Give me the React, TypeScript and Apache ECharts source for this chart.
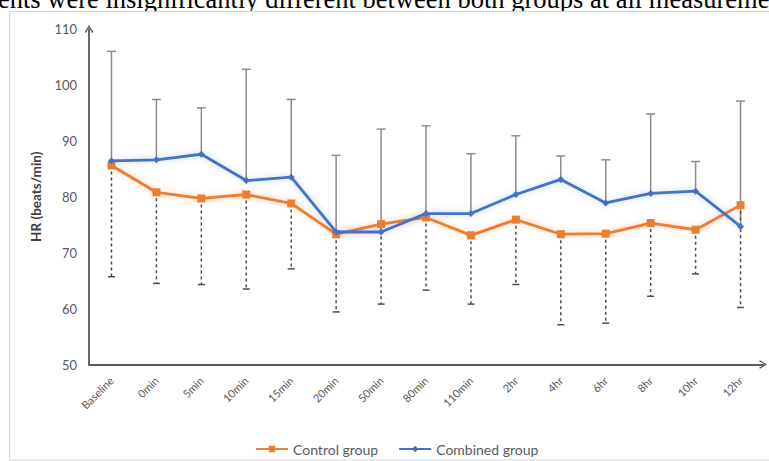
import React, { useEffect, useRef } from "react";
import * as echarts from "echarts";

// Time points of the heart-rate measurements
const timePoints = [
  "Baseline", "0min", "5min", "10min", "15min", "20min", "50min", "80min",
  "110min", "2hr", "4hr", "6hr", "8hr", "10hr", "12hr",
];

// Mean HR (beats/min) per group
const controlMean = [85.6, 80.8, 79.7, 80.4, 78.8, 73.3, 75.1, 76.3, 73.1, 75.9, 73.3, 73.4, 75.3, 74.1, 78.5];
const combinedMean = [86.4, 86.6, 87.6, 82.9, 83.5, 73.7, 73.7, 77.0, 77.0, 80.4, 83.1, 78.9, 80.6, 81.0, 74.7];

// Error-bar ends: upper (combined group) and lower (control group)
const combinedUpper = [106.0, 97.4, 95.9, 102.8, 97.4, 87.4, 92.1, 92.7, 87.7, 90.9, 87.3, 86.6, 94.8, 86.3, 97.1];
const controlLower = [65.7, 64.5, 64.3, 63.5, 67.1, 59.4, 60.8, 63.3, 60.8, 64.3, 57.1, 57.4, 62.2, 66.2, 60.2];

const yTicks = { min: 50, max: 110, interval: 10 };

const seriesNames = ["Control group", "Combined group"];
const caption = "ents were insignificantly different between both groups at all measureme";

const FONT = "Lato, 'Open Sans', sans-serif";
const AXIS_GREY = "#595959";
const CHEVRON = "path://M5,0 L10,8 L8.6,9.2 L5,2.6 L1.4,9.2 L0,8 Z";

function errorBar(dashed: boolean, color: string, capHalf: number) {
  return (params: any, api: any) => {
    const from = api.coord([api.value(0), api.value(1)]);
    const to = api.coord([api.value(0), api.value(2)]);
    const style = {
      stroke: color,
      lineWidth: 1.5,
      lineDash: dashed ? [3, 3] : undefined,
    };
    return {
      type: "group",
      children: [
        { type: "line", shape: { x1: from[0], y1: from[1], x2: to[0], y2: to[1] }, style },
        {
          type: "line",
          shape: { x1: to[0] - capHalf, y1: to[1], x2: to[0] + capHalf, y2: to[1] },
          style: { stroke: color, lineWidth: 1.5 },
        },
      ],
    };
  };
}

export default function App() {
  const ref = useRef<HTMLDivElement>(null);

  useEffect(() => {
    if (!ref.current) return;
    const chart = echarts.init(ref.current, null, { renderer: "svg" });

    const upperData = combinedUpper.map((v, i) => [i, combinedMean[i], v]);
    const lowerData = controlLower.map((v, i) => [i, controlMean[i], v]);

    chart.setOption({
      animation: false,
      backgroundColor: "#ffffff",
      grid: { left: 89, right: 6, top: 29, bottom: 96.5 },
      graphic: [
        {
          type: "text",
          x: -2,
          y: -1,
          z: -3,
          style: {
            text: caption,
            fill: "#000000",
            font: "26.5px 'Liberation Serif', 'DejaVu Serif', serif",
            verticalAlign: "middle",
          },
        },
        {
          // white figure panel with a light frame, laid over the caption's descenders
          type: "rect",
          z: -2,
          shape: { x: 9.5, y: 11.5, width: 800, height: 448.5 },
          style: { fill: "#ffffff", stroke: "#d4d4d4", lineWidth: 1 },
        },
      ],
      legend: {
        data: seriesNames,
        left: 250,
        top: 437,
        itemWidth: 32,
        itemHeight: 8,
        itemGap: 20,
        textStyle: { color: AXIS_GREY, fontSize: 14, fontFamily: FONT },
      },
      xAxis: {
        type: "category",
        data: timePoints,
        boundaryGap: true,
        axisTick: { show: false },
        axisLine: {
          lineStyle: { color: AXIS_GREY, width: 1.8 },
          symbol: ["none", CHEVRON],
          symbolSize: [11, 8],
        },
        axisLabel: {
          rotate: 45,
          color: AXIS_GREY,
          fontSize: 11,
          fontFamily: FONT,
          margin: 14,
        },
      },
      yAxis: {
        type: "value",
        min: yTicks.min,
        max: yTicks.max,
        interval: yTicks.interval,
        name: "HR (beats/min)",
        nameLocation: "middle",
        nameGap: 42,
        nameTextStyle: { color: "#404040", fontSize: 13.5, fontWeight: "bold", fontFamily: FONT },
        splitLine: { show: false },
        axisTick: { show: false },
        axisLine: {
          show: true,
          lineStyle: { color: AXIS_GREY, width: 1.8 },
          symbol: ["none", CHEVRON],
          symbolSize: [11, 8],
        },
        axisLabel: { color: AXIS_GREY, fontSize: 13, fontFamily: FONT, margin: 12 },
      },
      series: [
        {
          type: "custom",
          name: "upper",
          renderItem: errorBar(false, "#8c8c8c", 4.5),
          data: upperData,
          encode: { x: 0, y: [1, 2] },
          z: 1,
          silent: true,
        },
        {
          type: "custom",
          name: "lower",
          renderItem: errorBar(true, "#4d4d4d", 3.5),
          data: lowerData,
          encode: { x: 0, y: [1, 2] },
          z: 1,
          silent: true,
        },
        {
          type: "line",
          name: seriesNames[0],
          data: controlMean,
          symbol: "rect",
          symbolSize: 8,
          itemStyle: { color: "#ED7D31" },
          lineStyle: {
            color: "#ED7D31",
            width: 2.8,
            shadowBlur: 6,
            shadowColor: "rgba(237,125,49,0.45)",
          },
          z: 3,
        },
        {
          type: "line",
          name: seriesNames[1],
          data: combinedMean,
          symbol: "diamond",
          symbolSize: 7,
          itemStyle: { color: "#4472C4" },
          lineStyle: {
            color: "#4472C4",
            width: 2.8,
            shadowBlur: 6,
            shadowColor: "rgba(68,114,196,0.35)",
          },
          z: 4,
        },
      ],
    });

    return () => chart.dispose();
  }, []);

  return (
    <div
      ref={ref}
      style={{ position: "fixed", left: 0, top: 0, width: 769, height: 461 }}
    />
  );
}
